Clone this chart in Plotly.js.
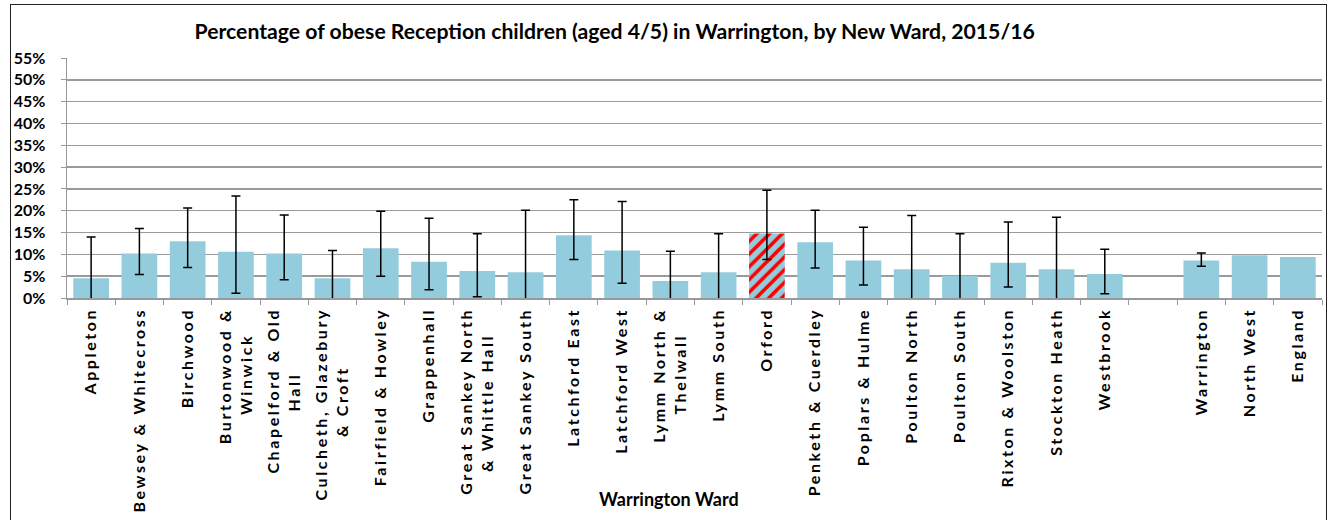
<!DOCTYPE html>
<html>
<head>
<meta charset="utf-8">
<script src="https://cdn.plot.ly/plotly-3.0.1.min.js"></script>
<style>
  html, body { margin: 0; padding: 0; background: #fff; }
  #wrap { position: relative; width: 1332px; height: 520px; overflow: hidden; }
  #chart { width: 1332px; height: 520px; }
  #frame { position: absolute; left: 10px; top: 4px; width: 1315px; height: 540px;
           border: 1.5px solid #222; pointer-events: none; }
  .xtick text { letter-spacing: 2.6px; }
</style>
</head>
<body>
<div id="wrap">
  <div id="chart"></div>
  <div id="frame"></div>
</div>
<script>
// Category keys (blank spacer between wards and comparators)
const categories = ['Appleton','Bewsey & Whitecross','Birchwood','Burtonwood & Winwick',
  'Chapelford & Old Hall','Culcheth, Glazebury & Croft','Fairfield & Howley','Grappenhall',
  'Great Sankey North & Whittle Hall','Great Sankey South','Latchford East','Latchford West',
  'Lymm North & Thelwall','Lymm South','Orford','Penketh & Cuerdley','Poplars & Hulme',
  'Poulton North','Poulton South','Rixton & Woolston','Stockton Heath','Westbrook',' ',
  'Warrington','North West','England'];

// Tick labels as wrapped in the original
const tickLabels = ['Appleton','Bewsey & Whitecross','Birchwood','Burtonwood &<br>Winwick',
  'Chapelford & Old<br>Hall','Culcheth, Glazebury<br>& Croft','Fairfield & Howley','Grappenhall',
  'Great Sankey North<br>& Whittle Hall','Great Sankey South','Latchford East','Latchford West',
  'Lymm North &<br>Thelwall','Lymm South','Orford','Penketh & Cuerdley','Poplars & Hulme',
  'Poulton North','Poulton South','Rixton & Woolston','Stockton Heath','Westbrook','',
  'Warrington','North West','England'];

// Percentage obese (%)
const obesePct = [4.5,10.2,13.0,10.6,10.2,4.5,11.4,8.3,6.2,5.9,14.4,10.9,3.9,5.9,14.8,12.8,8.6,
  6.6,5.1,8.1,6.6,5.5,null,8.6,9.8,9.4];

// 95% confidence interval bounds (%); bounds at or below 0 are cut off by the axis in the original
const ciLower = [-0.5,5.4,7.0,1.1,4.2,-0.5,5.0,1.9,0.3,-0.5,8.8,3.4,-0.5,-0.5,8.8,6.9,3.0,-0.5,-0.5,2.5,-0.5,1.0,null,7.3,null,null];
const ciUpper = [14.0,15.9,20.6,23.4,19.0,10.9,19.9,18.3,14.7,20.1,22.5,22.1,10.7,14.7,24.7,20.1,16.2,
  18.9,14.7,17.4,18.5,11.2,null,10.3,null,null];

const highlight = 'Orford';

const errPlus = obesePct.map((v,i) => (v==null || ciUpper[i]==null) ? NaN : +(ciUpper[i]-v).toFixed(2));
const errMinus = obesePct.map((v,i) => (v==null || ciLower[i]==null) ? NaN : +(v-ciLower[i]).toFixed(2));
const shapes = categories.map(c => c === highlight ? '/' : '');

const barColor = '#93CDDD';
const fontFam = 'Lato, "Open Sans", sans-serif';
const tickSize = 16, tickSpacing = 2.6;

// Centre wrapped lines of rotated tick labels (the original centres each line)
const ctx = document.createElement('canvas').getContext('2d');
ctx.font = 'bold ' + tickSize + 'px Lato';
try { ctx.letterSpacing = tickSpacing + 'px'; } catch (e) {}
const measure = s => ctx.measureText(s).width + (ctx.letterSpacing ? 0 : s.length * tickSpacing);
const NB = '\u00A0';
function centreLines(label) {
  const lines = label.split('<br>');
  if (lines.length < 2) return label;
  const w = lines.map(measure);
  const max = Math.max(...w);
  const nbw = measure(NB);
  return lines.map((l, i) => l + NB.repeat(Math.max(0, Math.round((max - w[i]) / 2 / nbw)))).join('<br>');
}
const tickText = tickLabels.map(centreLines);

const trace = {
  type: 'bar',
  x: categories,
  y: obesePct,
  cliponaxis: true,
  marker: {
    color: barColor,
    line: { width: 0 },
    pattern: { shape: shapes, fgcolor: '#FF0000', bgcolor: barColor, size: 9, solidity: 0.4, fillmode: 'replace' }
  },
  error_y: {
    type: 'data', symmetric: false, array: errPlus, arrayminus: errMinus,
    color: '#000', thickness: 1.5, width: 4.5, visible: true
  },
  hoverinfo: 'x+y',
  showlegend: false
};

const plotTop = 57.5, plotBottom = 298.5;
const layout = {
  width: 1332, height: 520,
  margin: { l: 67, r: 10, t: plotTop, b: 520 - plotBottom, pad: 0 },
  paper_bgcolor: '#fff', plot_bgcolor: '#fff',
  bargap: 0.26,
  title: {
    text: '<b>Percentage of obese Reception children (aged 4/5) in Warrington, by New Ward, 2015/16</b>',
    font: { family: fontFam, size: 21.2, color: '#000' },
    xref: 'container', x: 0.4615, xanchor: 'center',
    yref: 'container', y: 1 - 32/520, yanchor: 'middle'
  },
  xaxis: {
    type: 'category',
    tickvals: categories, ticktext: tickText,
    tickangle: -90,
    tickfont: { family: fontFam, size: tickSize, color: '#000', weight: 'bold' },
    ticks: 'outside', tickson: 'boundaries', ticklen: 5, tickcolor: '#999', tickwidth: 1,
    showline: true, linecolor: '#999', linewidth: 1.5,
    showgrid: false, zeroline: false,
    ticklabelstandoff: 2
  },
  yaxis: {
    range: [0, 55], dtick: 5, tick0: 0,
    ticksuffix: '%',
    tickfont: { family: fontFam, size: 16, color: '#000', weight: 'bold' },
    ticks: 'outside', ticklen: 5, tickcolor: '#999', tickwidth: 1,
    showline: true, linecolor: '#999', linewidth: 1.5,
    showgrid: true, gridcolor: '#9a9a9a', gridwidth: 1.5,
    zeroline: false,
    ticklabelstandoff: 12
  },
  annotations: [{
    text: '<b>Warrington Ward</b>',
    xref: 'paper', yref: 'paper',
    x: (669 - 67) / (1332 - 67 - 10), y: (plotBottom - 500.5) / (plotBottom - plotTop),
    xanchor: 'center', yanchor: 'middle', showarrow: false,
    font: { family: fontFam, size: 18, color: '#000' }
  }]
};

Plotly.newPlot('chart', [trace], layout, { displayModeBar: false, staticPlot: true });
</script>
</body>
</html>
